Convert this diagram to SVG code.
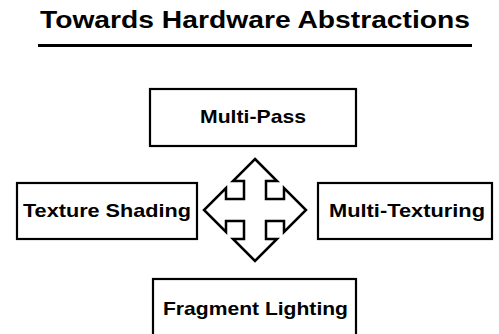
<svg xmlns="http://www.w3.org/2000/svg" width="499" height="334" viewBox="0 0 499 334">
<style>
.box{fill:#fff;stroke:#000;stroke-width:2.2}
.lbl{font-family:"Liberation Sans",Arial,sans-serif;font-weight:bold;font-size:19px;fill:#000;text-anchor:middle}
.title{font-family:"Liberation Sans",Arial,sans-serif;font-weight:bold;font-size:23px;fill:#000;text-anchor:middle}
</style>
<rect width="499" height="334" fill="#fff"/>
<g id="title">
<text class="title" x="255" y="28" textLength="430" lengthAdjust="spacingAndGlyphs">Towards Hardware Abstractions</text>
<rect x="38" y="44" width="434" height="3" fill="#000"/>
</g>
<g id="multi-pass">
<rect class="box" x="150" y="89" width="206" height="57"/>
<text class="lbl" x="253" y="123" textLength="106" lengthAdjust="spacingAndGlyphs">Multi-Pass</text>
</g>
<g id="texture-shading">
<rect class="box" x="17" y="183" width="180" height="56"/>
<text class="lbl" x="107" y="217" textLength="168" lengthAdjust="spacingAndGlyphs">Texture Shading</text>
</g>
<g id="multi-texturing">
<rect class="box" x="318" y="183" width="174" height="56"/>
<text class="lbl" x="407" y="217" textLength="156" lengthAdjust="spacingAndGlyphs">Multi-Texturing</text>
</g>
<g id="fragment-lighting">
<rect class="box" x="153" y="279" width="203" height="60"/>
<text class="lbl" x="255.5" y="315" textLength="185" lengthAdjust="spacingAndGlyphs">Fragment Lighting</text>
</g>
<g id="connectors">
<polygon points="255,159 277,181 266,181 266,199 284,199 284,188 306,210 284,232 284,221 266,221 266,239 277,239 255,261 233,239 244,239 244,221 226,221 226,232 204,210 226,188 226,199 244,199 244,181 233,181" fill="#fff" stroke="#000" stroke-width="2.5" stroke-linejoin="miter"/>
</g>
</svg>
